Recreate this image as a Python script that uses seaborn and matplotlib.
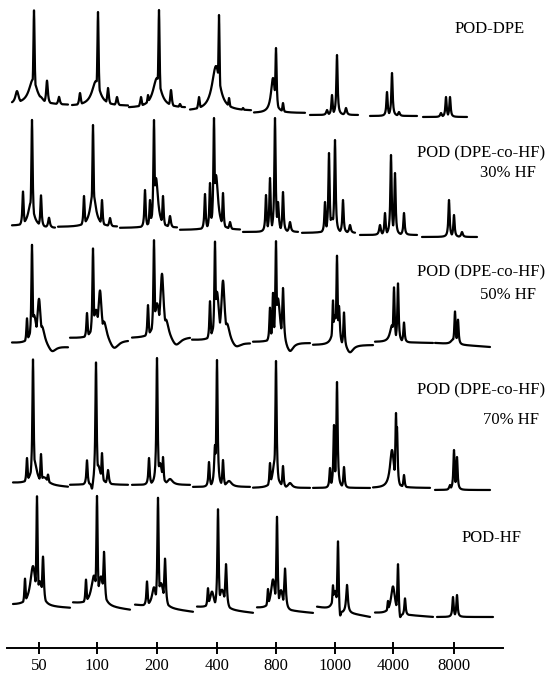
import numpy as np
import pandas as pd
import matplotlib
matplotlib.use('Agg')
import matplotlib.pyplot as plt
import seaborn as sns

# x axis: decade labels and the detector channel where each one sits
mz_labels = ['50', '100', '200', '400', '800', '1000', '4000', '8000']
mz_channels = [39, 97, 157, 217, 276, 335, 393, 454]

# every trace: segments (start, end, baseline at start, baseline at end)
# and per segment the peaks (channel, height, half width)
dpe_segments = [(12, 68, 0, -1), (72, 128, -2, -2), (129, 185, -4, -4), (190, 251, -7, -7),
                (254, 305, -9, -9), (310, 358, -11, -11), (370, 417, -12, -12), (423, 467, -13, -13)]
dpe_peaks = [
    [(17, 13, 2.5), (26, 6, 2), (33, 25, 6), (34, 94, 1.5), (40, 8, 5), (47, 24, 2), (59, 8, 2)],
    [(80, 13, 2), (88, 6, 2), (96, 25, 6), (98, 94, 1.5), (104, 6, 5), (108, 18, 2), (117, 9, 2)],
    [(141, 11, 2), (148, 13, 2), (157, 30, 6), (159, 98, 1.5), (165, 6, 5), (171, 18, 2), (180, 4, 2)],
    [(199, 14, 2), (210, 16, 2), (216, 45, 6), (219, 96, 1.5), (229, 13, 2), (243, 3, 2)],
    [(268, 5, 2), (273, 35, 3), (276, 65, 1.5), (283, 10, 1.5)],
    [(327, 5, 2), (332, 20, 1.5), (337, 60, 1.5), (346, 7, 2)],
    [(387, 24, 1.5), (392, 43, 1.5), (399, 4, 2)],
    [(441, 4, 2), (446, 20, 1.5), (450, 20, 1.5)],
]

hf30_segments = [(12, 55, 1, -1), (58, 117, 0, 0), (120, 177, -1, -1), (180, 240, -3, -3),
                 (243, 298, -5, -5), (302, 355, -6, -6), (360, 417, -8, -8), (422, 477, -10, -10)]
hf30_peaks = [
    [(23, 35, 1.5), (31, 25, 4), (32, 107, 1.5), (41, 32, 1.5), (49, 10, 2)],
    [(84, 31, 1.5), (93, 35, 4), (93, 102, 1.5), (102, 27, 1.5), (110, 9, 2)],
    [(145, 38, 1.5), (150, 28, 1.5), (154, 108, 1.5), (156, 50, 3), (163, 32, 1.5), (170, 12, 2)],
    [(205, 36, 1.5), (210, 47, 1.5), (214, 112, 1.5), (216, 55, 3), (223, 37, 1.5), (230, 8, 2)],
    [(266, 37, 1.5), (270, 54, 1.5), (275, 114, 1.5), (278, 30, 2), (283, 40, 1.5), (290, 10, 2)],
    [(325, 31, 1.5), (329, 80, 1.5), (332, 15, 4), (335, 93, 1.5), (343, 33, 1.5), (350, 8, 2)],
    [(380, 10, 2), (385, 22, 1.5), (391, 80, 1.5), (395, 62, 1.5), (404, 22, 1.5)],
    [(449, 37, 1.5), (454, 22, 1.5), (462, 5, 2)],
]

hf50_segments = [(12, 68, 0, -4), (70, 128, 5, 3), (132, 190, 5, 6), (192, 250, 3, 0),
                 (253, 310, 1, 0), (313, 373, -2, -2), (375, 433, 1, 0), (435, 490, 0, -4)]
hf50_peaks = [
    [(27, 26, 1.5), (32, 100, 1.5), (34, 30, 4), (39, 47, 2.5), (42, 20, 4), (52, -7, 6)],
    [(87, 26, 1.5), (93, 91, 1.5), (96, 30, 4), (100, 50, 2.5), (104, 20, 4), (114, -10, 7)],
    [(148, 33, 1.5), (154, 98, 1.5), (157, 35, 4), (162, 65, 2.5), (166, 20, 4), (176, -9, 7)],
    [(210, 40, 1.5), (215, 100, 1.5), (217, 50, 3), (223, 62, 2.5), (227, 20, 4), (236, -6, 7)],
    [(270, 35, 1.5), (273, 50, 1.5), (276, 102, 1.5), (278, 45, 3), (283, 57, 2), (290, -10, 5)],
    [(333, 45, 1.5), (335, 30, 3), (337, 90, 1.5), (339, 40, 2), (344, 35, 1.5), (350, -8, 5)],
    [(392, 17, 3), (394, 55, 1.5), (398, 59, 1.5), (404, 20, 1.5)],
    [(453, 5, 3), (455, 33, 1.5), (458, 25, 1.5)],
]

hf70_segments = [(13, 68, 0, -4), (70, 128, -2, -2), (132, 190, -2, -2), (193, 250, -4, -4),
                 (253, 310, -5, -5), (313, 370, -5, -5), (373, 430, -5, -5), (435, 490, -7, -7)]
hf70_peaks = [
    [(27, 26, 1.5), (33, 125, 1.5), (34, 25, 4), (41, 31, 1.5), (44, 8, 6), (48, 11, 2)],
    [(87, 25, 1.5), (92, -8, 2), (96, 123, 1.5), (98, 20, 4), (102, 32, 1.5), (108, 15, 2)],
    [(149, 27, 1.5), (157, 127, 1.5), (160, 22, 3), (163, 28, 1.5), (170, 6, 4)],
    [(209, 25, 1.5), (215, 42, 2), (217, 127, 1.5), (223, 27, 1.5), (229, 6, 4)],
    [(270, 25, 1.5), (275, 30, 3), (276, 127, 1.5), (283, 22, 1.5), (290, 5, 3)],
    [(330, 20, 1.5), (334, 63, 1.5), (337, 106, 1.5), (344, 21, 1.5)],
    [(392, 38, 3), (396, 75, 1.5), (397, 61, 1.5), (404, 13, 1.5)],
    [(450, 5, 2), (454, 40, 1.5), (457, 33, 1.5)],
]

hf_segments = [(13, 70, 0, -3), (73, 130, 2, -5), (135, 193, 0, -7), (197, 253, -2, -8),
               (257, 313, -3, -8), (317, 370, -2, -12), (375, 433, -8, -12), (437, 493, -12, -12)]
hf_peaks = [
    [(25, 27, 1.5), (33, 40, 4), (37, 110, 1.5), (40, 25, 4), (43, 50, 2)],
    [(86, 25, 1.5), (94, 30, 4), (97, 110, 1.5), (101, 30, 4), (104, 55, 2)],
    [(147, 25, 1.5), (154, 20, 3), (158, 110, 1.5), (161, 25, 4), (165, 50, 2)],
    [(208, 20, 1.5), (212, 17, 3), (218, 100, 1.5), (222, 20, 4), (226, 46, 2)],
    [(268, 20, 1.5), (273, 30, 3), (277, 93, 1.5), (281, 20, 3), (285, 42, 2)],
    [(333, 25, 1.5), (335, 20, 3), (338, 72, 1.5), (340, -12, 2), (347, 28, 2)],
    [(388, 13, 1.5), (393, 28, 3), (398, 52, 1.5), (400, -8, 2), (405, 17, 1.5)],
    [(453, 20, 1.5), (457, 22, 1.5)],
]

trace_labels = ['POD-DPE', 'POD (DPE-co-HF)\n30% HF', 'POD (DPE-co-HF)\n50% HF',
                'POD (DPE-co-HF)\n70% HF', 'POD-HF']

# layout: vertical offset of each stacked trace (figure is 676 units tall)
offsets = [572, 449, 333, 193, 71]


def build_trace(name, segments, peaks, offset):
    frames = []
    for k, ((x0, x1, b0, b1), plist) in enumerate(zip(segments, peaks)):
        x = np.arange(x0, x1 + 0.01, 0.25)
        base = b0 + (b1 - b0) * (x - x0) / (x1 - x0)
        up = np.zeros_like(x)
        down = np.zeros_like(x)
        for pos, h, w in plist:
            # sharp lines stay narrow, shoulders get a wider profile
            g = 0.5 * w if w <= 2 else 0.8 * w
            shape = h * g ** 2 / ((x - pos) ** 2 + g ** 2)
            if h > 0:
                up = np.maximum(up, shape)
            else:
                down = np.minimum(down, shape)
        frames.append(pd.DataFrame({'channel': x,
                                    'intensity': offset + base + up + down,
                                    'unit': f'{name} {k}'}))
    return pd.concat(frames, ignore_index=True)


all_segments = [dpe_segments, hf30_segments, hf50_segments, hf70_segments, hf_segments]
all_peaks = [dpe_peaks, hf30_peaks, hf50_peaks, hf70_peaks, hf_peaks]
df = pd.concat([build_trace(n, s, p, o) for n, s, p, o in
                zip(trace_labels, all_segments, all_peaks, offsets)], ignore_index=True)

sns.set_theme(style='white')
plt.rcParams['font.family'] = ['Liberation Serif', 'DejaVu Serif']

fig = plt.figure(figsize=(5.47, 6.76), dpi=100)
ax = fig.add_axes([0, 0, 1, 1])
sns.lineplot(data=df, x='channel', y='intensity', units='unit', estimator=None,
             sort=False, color='black', linewidth=1.6, ax=ax)

ax.set_xlim(0, 547)
ax.set_ylim(0, 676)
ax.set_xlabel('')
ax.set_ylabel('')

for side in ['top', 'right', 'left']:
    ax.spines[side].set_visible(False)
ax.spines['bottom'].set_position(('data', 28))
ax.spines['bottom'].set_bounds(7, 503)
ax.spines['bottom'].set_linewidth(1.4)
ax.spines['bottom'].set_color('black')
ax.set_xticks(mz_channels)
ax.set_xticklabels(mz_labels)
ax.set_yticks([])
ax.tick_params(axis='x', direction='inout', length=9, width=1.4, pad=3,
               labelsize=12, colors='black', bottom=True)

# trace names on the right
label_spots = [(455, 647), (417, 523), (417, 404), (417, 286), (462, 138)]
subtitle_spots = [None, (480, 503), (480, 381), (483, 256), None]
for lab, (lx, ly), sub in zip(trace_labels, label_spots, subtitle_spots):
    parts = lab.split('\n')
    ax.text(lx, ly, parts[0], fontsize=12, ha='left', va='center', color='black')
    if sub is not None:
        ax.text(sub[0], sub[1], parts[1], fontsize=12, ha='left', va='center', color='black')

fig.savefig('out.png', dpi=100)
